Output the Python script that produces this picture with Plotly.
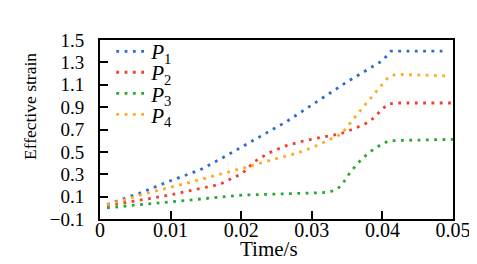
import plotly.graph_objects as go

# Time (s) and effective strain
t_p1 = [0.001, 0.0056, 0.0099, 0.0142, 0.0173, 0.0264, 0.0351, 0.0400, 0.0412, 0.0485]
v_p1 = [0.03, 0.13, 0.24, 0.34, 0.445, 0.77, 1.13, 1.315, 1.40, 1.40]

t_p2 = [0.001, 0.0092, 0.0170, 0.0202, 0.0218, 0.0239, 0.0261, 0.0283, 0.0305, 0.0340, 0.0361, 0.0382, 0.0407, 0.0417, 0.0500]
v_p2 = [0.02, 0.106, 0.21, 0.31, 0.41, 0.49, 0.55, 0.59, 0.62, 0.66, 0.71, 0.77, 0.925, 0.937, 0.937]

t_p3 = [0.001, 0.0124, 0.0202, 0.0300, 0.0323, 0.0334, 0.0342, 0.0355, 0.0371, 0.0389, 0.0409, 0.0500]
v_p3 = [0.0, 0.07, 0.114, 0.132, 0.139, 0.16, 0.20, 0.323, 0.439, 0.532, 0.60, 0.612]

t_p4 = [0.001, 0.0066, 0.0124, 0.0179, 0.0212, 0.0247, 0.0280, 0.0302, 0.0323, 0.0342, 0.0372, 0.0409, 0.0419, 0.0490]
v_p4 = [0.028, 0.13, 0.222, 0.314, 0.371, 0.436, 0.49, 0.541, 0.60, 0.66, 0.895, 1.172, 1.193, 1.18]

series_names = ["<i>P</i><sub>1</sub>", "<i>P</i><sub>2</sub>", "<i>P</i><sub>3</sub>", "<i>P</i><sub>4</sub>"]
colors = ["#2e6bd0", "#f0402c", "#2aa836", "#ffaa22"]

x_ticks = [0, 0.01, 0.02, 0.03, 0.04, 0.05]
x_tick_text = ["0", "0.01", "0.02", "0.03", "0.04", "0.05"]
y_ticks = [-0.1, 0.1, 0.3, 0.5, 0.7, 0.9, 1.1, 1.3, 1.5]
y_tick_text = ["\u22120.1", "0.1", "0.3", "0.5", "0.7", "0.9", "1.1", "1.3", "1.5"]

FONT = "Liberation Serif"

# one legend box per series, stacked like the reference
legend_rows = [0.935, 0.818, 0.700, 0.582]
legend_keys = ["legend", "legend2", "legend3", "legend4"]

fig = go.Figure()
for t, v, name, c, lk in zip([t_p1, t_p2, t_p3, t_p4], [v_p1, v_p2, v_p3, v_p4],
                             series_names, colors, legend_keys):
    fig.add_trace(go.Scatter(
        x=t, y=v, mode="lines", name=name, legend=lk,
        line=dict(color=c, width=2.8, dash="2.8px,5.5px"),
    ))

layout_legends = {}
for lk, ly in zip(legend_keys, legend_rows):
    layout_legends[lk] = dict(x=0.032, y=ly, xanchor="left", yanchor="middle",
                              bgcolor="rgba(0,0,0,0)", borderwidth=0,
                              font=dict(size=21, family=FONT, color="black"),
                              itemwidth=30)

fig.update_layout(
    width=477, height=264,
    margin=dict(l=92, r=32, t=32, b=53),
    paper_bgcolor="white", plot_bgcolor="white",
    font=dict(family=FONT, color="black", size=19),
    showlegend=True,
    xaxis=dict(range=[0, 0.05], tickvals=x_ticks, ticktext=x_tick_text,
               showline=True, linecolor="black", linewidth=2, mirror=True,
               ticks="inside", ticklen=8, tickwidth=1.5, tickcolor="black",
               showgrid=False, zeroline=False, tickfont=dict(size=20),
               ticklabelstandoff=-8),
    yaxis=dict(range=[-0.1, 1.5], tickvals=y_ticks, ticktext=y_tick_text,
               showline=True, linecolor="black", linewidth=2, mirror=True,
               ticks="inside", ticklen=8, tickwidth=1.5, tickcolor="black",
               showgrid=False, zeroline=False, tickfont=dict(size=19),
               ticklabelstandoff=10),
    annotations=[
        dict(text="Effective strain", xref="paper", yref="paper",
             x=-0.198, y=0.626, textangle=-90, showarrow=False,
             font=dict(size=17.5, family=FONT), xanchor="center", yanchor="middle"),
        dict(text="Time/s", xref="paper", yref="paper",
             x=0.478, y=-0.165, showarrow=False,
             font=dict(size=21, family=FONT), xanchor="center", yanchor="middle"),
    ],
    **layout_legends,
)

fig.write_html("out.html")
